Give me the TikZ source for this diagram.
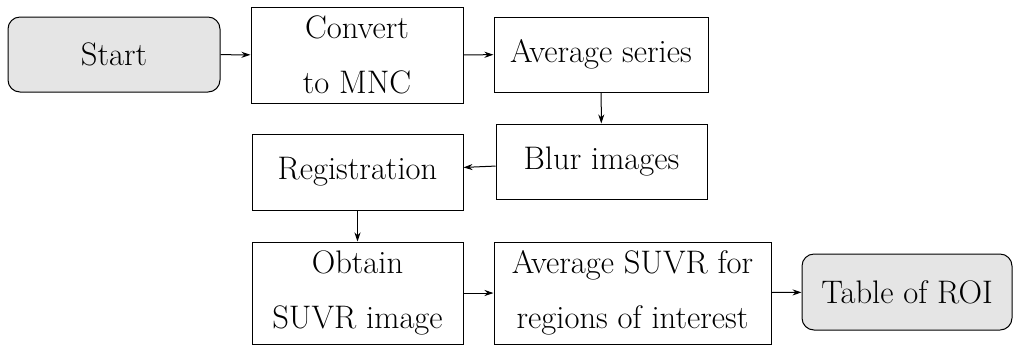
\documentclass[tikz,border=0pt]{standalone}
\usepackage{amsmath, amssymb}
\usepackage{tikz}
\usetikzlibrary{arrows.meta}

\tikzset{
  stepbox/.style={draw, line width=0.5pt, align=center, inner sep=0.75pt,
    font=\fontsize{16.3}{27.5}\selectfont},
  terminal/.style={stepbox, rounded corners=6pt, fill=gray!20},
  flow/.style={-{Stealth[length=4.5pt,width=3pt]}, line width=0.5pt}
}

\begin{document}
\begin{tikzpicture}[x=0.5pt,y=0.5pt,yscale=-1,xscale=1]
%set diagram left start at 0, width 1013 and height 345
\path[use as bounding box] (0,0) rectangle (1013,345);

% Terminal Node
\node [terminal, minimum width=106pt, minimum height=37.5pt] (start) at (114,54.5) {Start};
% Process Node
\node [stepbox, minimum width=106pt, minimum height=48pt] (convert) at (357,55) {Convert\\to MNC};
% Process Node
\node [stepbox, minimum width=107pt, minimum height=37.5pt] (avgseries) at (601,54.5) {Average series};
% Process Node
\node [stepbox, minimum width=105.5pt, minimum height=37.5pt] (blur) at (601.5,161.5) {Blur images};
% Process Node
\node [stepbox, minimum width=105.5pt, minimum height=38pt] (registration) at (357.5,172) {Registration};
% Process Node
\node [stepbox, minimum width=105.5pt, minimum height=51pt] (suvr) at (357.5,293) {Obtain\\SUVR image};
% Process Node
\node [stepbox, minimum width=138.5pt, minimum height=51pt] (roiavg) at (632.5,293) {Average SUVR for\\regions of interest};
% Terminal Node
\node [terminal, minimum width=105pt, minimum height=38pt] (table) at (907,292) {Table of ROI};

% Connectors
\draw [flow] (start) -- (convert);
\draw [flow] (convert) -- (avgseries);
\draw [flow] (avgseries) -- (blur);
\draw [flow] (blur) -- (registration);
\draw [flow] (registration) -- (suvr);
\draw [flow] (suvr) -- (roiavg);
\draw [flow] (roiavg) -- (table);

\end{tikzpicture}
\end{document}
